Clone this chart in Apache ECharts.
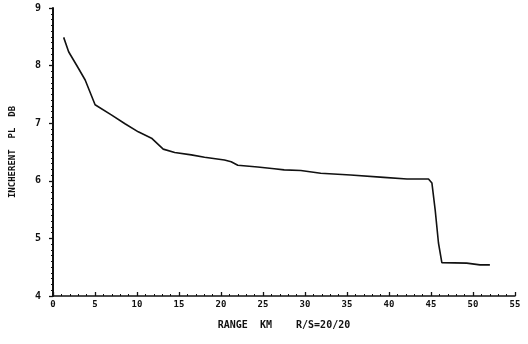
<!DOCTYPE html>
<html>
<head>
<meta charset="utf-8">
<script src="https://cdn.jsdelivr.net/npm/echarts@6/dist/echarts.min.js"></script>
<style>html,body{margin:0;padding:0;background:#fff}#c{width:528px;height:344px}</style>
</head>
<body>
<div id="c"></div>
<script>
// Range (km) and incoherent path loss values
var rangeKm = [1.27, 1.86, 3.04, 3.83, 5.01, 6.99, 8.57, 10.15, 11.73, 13.12, 14.49, 16.47, 18.04, 20.41, 21.21, 22.0, 24.37, 26.34, 27.52, 29.5, 31.87, 35.43, 39.37, 42.14, 44.70, 45.11, 45.50, 45.89, 46.29, 49.25, 50.83, 52.01];
var plDb    = [8.49, 8.24, 7.95, 7.75, 7.32, 7.14, 6.99, 6.85, 6.74, 6.55, 6.49, 6.45, 6.41, 6.36, 6.33, 6.27, 6.24, 6.21, 6.19, 6.18, 6.13, 6.10, 6.06, 6.03, 6.03, 5.96, 5.49, 4.92, 4.58, 4.57, 4.54, 4.54];
var xTicks = [0, 5, 10, 15, 20, 25, 30, 35, 40, 45, 50, 55];
var yTicks = [4, 5, 6, 7, 8, 9];

var pts = rangeKm.map(function (x, i) { return [x, plDb[i]]; });
var font = '"DejaVu Sans Mono", monospace';
var chart = echarts.init(document.getElementById('c'), null, {renderer: 'canvas'});
chart.setOption({
  animation: false,
  backgroundColor: '#fff',
  grid: {left: 51, right: 13, top: 8, bottom: 48},
  xAxis: {
    type: 'value', min: xTicks[0], max: xTicks[xTicks.length - 1], interval: 5,
    name: 'RANGE  KM    R/S=20/20', nameLocation: 'middle', nameGap: 24,
    nameTextStyle: {color: '#111', fontFamily: font, fontWeight: 'bold', fontSize: 10},
    axisLine: {lineStyle: {color: '#111', width: 1.5}},
    axisTick: {inside: true, length: 4, lineStyle: {color: '#111', width: 1.3}},
    minorTick: {show: true, splitNumber: 5, length: 2, lineStyle: {color: '#111'}},
    axisLabel: {color: '#111', fontFamily: font, fontWeight: 'bold', fontSize: 9, margin: 4},
    splitLine: {show: false}
  },
  yAxis: {
    type: 'value', min: yTicks[0], max: yTicks[yTicks.length - 1], interval: 1,
    name: 'INCHERENT  PL  DB', nameLocation: 'middle', nameGap: 36,
    nameTextStyle: {color: '#111', fontFamily: font, fontWeight: 'bold', fontSize: 9},
    axisLine: {show: true, lineStyle: {color: '#111', width: 2}},
    axisTick: {show: true, length: 4, lineStyle: {color: '#111', width: 1.3}},
    minorTick: {show: true, splitNumber: 10, length: 2, lineStyle: {color: '#111'}},
    axisLabel: {color: '#111', fontFamily: font, fontWeight: 'bold', fontSize: 10, margin: 12},
    splitLine: {show: false}
  },
  series: [{
    type: 'line', data: pts, showSymbol: false, smooth: false,
    lineStyle: {color: '#111', width: 1.6}
  }]
});
</script>
</body>
</html>
